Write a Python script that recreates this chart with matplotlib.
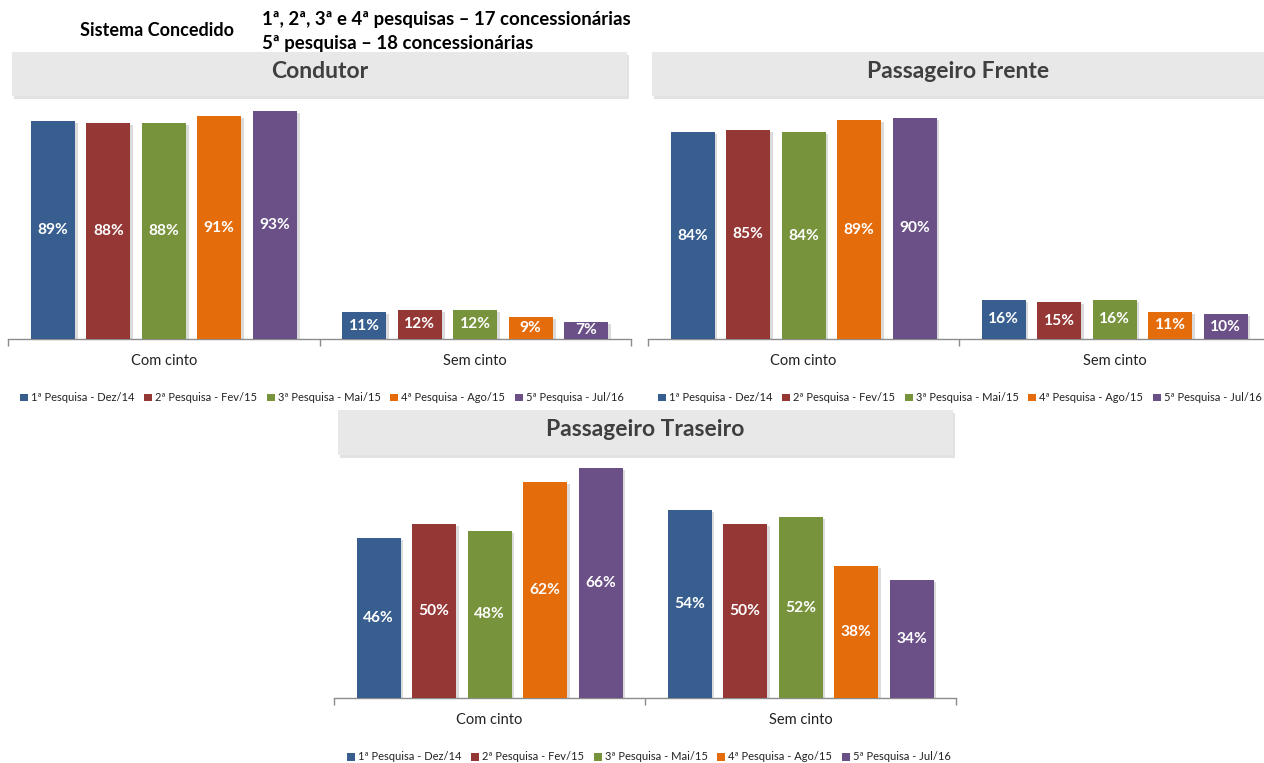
import matplotlib
matplotlib.use("Agg")
import matplotlib.pyplot as plt
import matplotlib.patheffects as pe
from matplotlib.patches import Rectangle, Patch
import numpy as np

plt.rcParams['font.family'] = ['Lato', 'DejaVu Sans']

# ---- data ----
categories = ["Com cinto", "Sem cinto"]
series_names = ["1ª Pesquisa - Dez/14", "2ª Pesquisa - Fev/15", "3ª Pesquisa - Mai/15",
                "4ª Pesquisa - Ago/15", "5ª Pesquisa - Jul/16"]
colors = ["#375E8F", "#953735", "#77933C", "#E46C0A", "#6A5087"]

condutor = [[89, 11], [88, 12], [88, 12], [91, 9], [93, 7]]
passageiro_frente = [[84, 16], [85, 15], [84, 16], [89, 11], [90, 10]]
passageiro_traseiro = [[46, 54], [50, 50], [48, 52], [62, 38], [66, 34]]

W, H = 1264, 763
fig = plt.figure(figsize=(W / 100, H / 100), dpi=100)


def fx(px):
    return px / W


def fy(py):
    return 1 - py / H


def title_box(x0, x1, y0, y1, text):
    r = Rectangle((fx(x0), fy(y1)), fx(x1 - x0), (y1 - y0) / H, transform=fig.transFigure,
                  facecolor="#E8E8E8", edgecolor="none", zorder=0,
                  path_effects=[pe.SimplePatchShadow(offset=(1.5, -2), shadow_rgbFace="#D0D0D0", alpha=0.6),
                                pe.Normal()])
    fig.patches.append(r)
    fig.text(fx((x0 + x1) / 2), fy((y0 + y1) / 2 - 3), text, ha="center", va="center",
             fontsize=16.5, fontweight="bold", color="#3F3F3F")


def panel(left, right, baseline, px_per_pct, ymax, values, legend_x, legend_y):
    height = px_per_pct * ymax
    ax = fig.add_axes([fx(left), fy(baseline), fx(right - left), height / H])
    unit = (right - left) / 2.0
    n = len(values)
    step = 55.5 / unit
    width = 44 / unit
    x = np.arange(len(categories))
    for i, (vals, c) in enumerate(zip(values, colors)):
        xs = x + (i - (n - 1) / 2) * step
        bars = ax.bar(xs, vals, width=width, color=c, zorder=3, label=series_names[i])
        for b in bars:
            b.set_path_effects([pe.SimplePatchShadow(offset=(2, -1.5), shadow_rgbFace="#999999", alpha=0.35),
                                pe.Normal()])
        for xi, v in zip(xs, vals):
            ax.text(xi, v / 2, f"{v}%", ha="center", va="center", color="white",
                    fontsize=11.2, fontweight="bold", zorder=4)
    ax.set_xlim(-0.5, 1.5)
    ax.set_ylim(0, ymax)
    for s in ["top", "right", "left"]:
        ax.spines[s].set_visible(False)
    ax.spines["bottom"].set_color("#8C8C8C")
    ax.spines["bottom"].set_linewidth(1)
    ax.set_yticks([])
    ax.set_xticks([-0.5, 0.5, 1.5])
    ax.set_xticklabels([])
    ax.set_xticks(x, minor=True)
    ax.set_xticklabels(categories, minor=True, fontsize=10.5, color="#222222")
    ax.tick_params(axis="x", which="major", length=5, color="#8C8C8C", width=1)
    ax.tick_params(axis="x", which="minor", length=0, pad=11)
    handles = [Patch(facecolor=c, edgecolor="none") for c in colors]
    fig.legend(handles, series_names, loc="center",
               bbox_to_anchor=(fx(legend_x), fy(legend_y)), ncol=5, frameon=False,
               fontsize=8.0, handlelength=0.7, handleheight=0.7, handletextpad=0.3,
               columnspacing=0.85, labelcolor="#222222")
    return ax


# header
fig.text(fx(80), fy(31), "Sistema Concedido", ha="left", va="center", fontsize=13,
         fontweight="bold", color="black")
fig.text(fx(262), fy(19), "1ª, 2ª, 3ª e 4ª pesquisas – 17 concessionárias", ha="left", va="center",
         fontsize=13.4, fontweight="bold", color="black")
fig.text(fx(262), fy(43), "5ª pesquisa – 18 concessionárias", ha="left", va="center",
         fontsize=13.4, fontweight="bold", color="black")

title_box(12, 627, 52, 96, "Condutor")
title_box(652, 1264, 52, 96, "Passageiro Frente")
title_box(338, 953, 410, 455, "Passageiro Traseiro")

panel(8, 631, 339, 2.45, 95, condutor, 322, 398)
panel(648, 1270, 339, 2.46, 95, passageiro_frente, 960, 398)
panel(334, 956, 698, 3.48, 68, passageiro_traseiro, 649, 757)

fig.savefig("out.png", dpi=100)
